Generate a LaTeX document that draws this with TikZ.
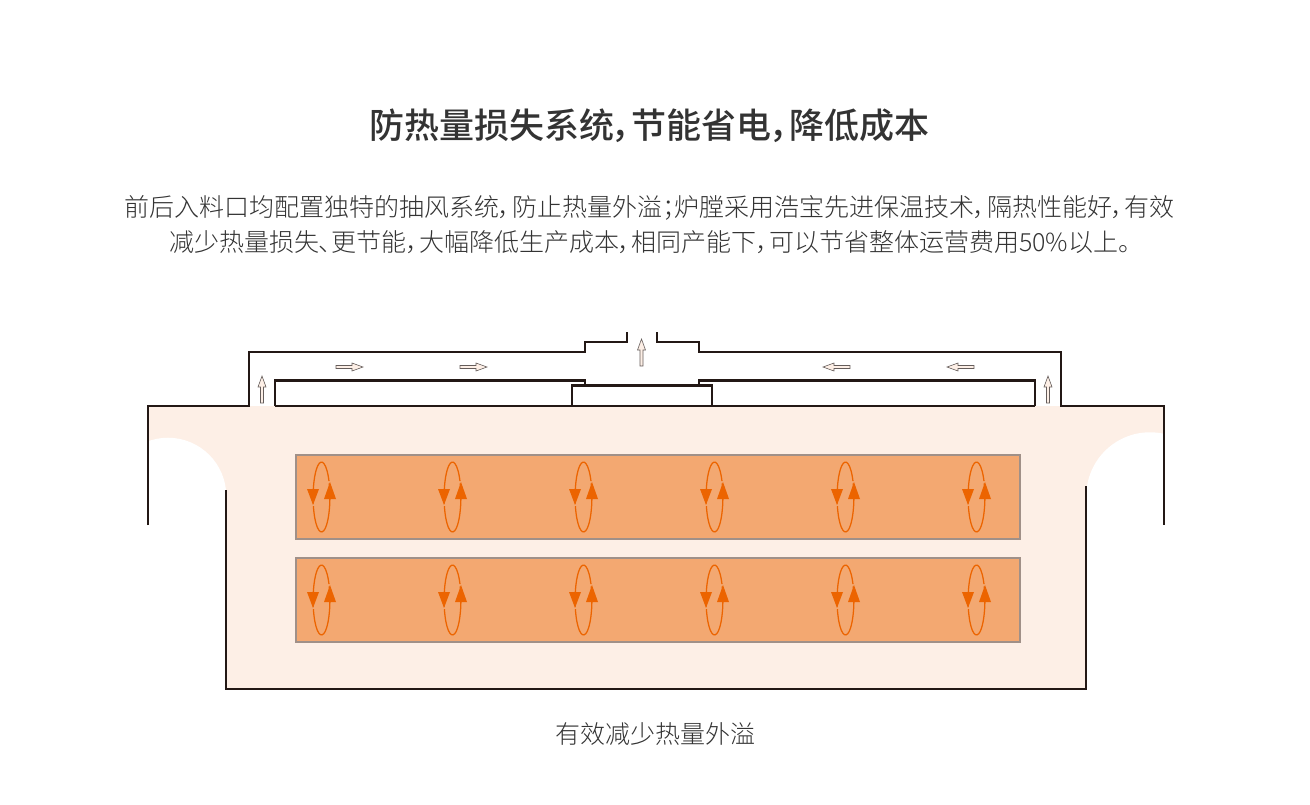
\documentclass[tikz,border=0pt]{standalone}
\usepackage{fontspec}
\setmainfont[RawFeature=+palt]{Noto Sans CJK SC Light}
\newfontfamily\titlefont[RawFeature=+palt]{Noto Sans CJK SC Medium}
\definecolor{wallcolor}{HTML}{231815}
\definecolor{furnacecolor}{HTML}{FDEFE6}
\definecolor{chambercolor}{HTML}{F3A871}
\definecolor{chamberedge}{HTML}{A09088}
\definecolor{swirlcolor}{HTML}{EC6400}
\definecolor{textcolor}{HTML}{333333}
\tikzset{
    wall/.style={draw=wallcolor, line width=2pt, line join=miter},
    chamber/.style={fill=chambercolor, draw=chamberedge, line width=0.9pt},
    flowarrow/.style={fill=furnacecolor, draw=wallcolor!70, line width=0.45pt},
    label/.style={text=textcolor, inner sep=0pt}
}
\newcommand{\flow}[3]{%
    \draw[flowarrow, shift={(#1, #2)}, rotate=#3] (0, -1.5) -- (16, -1.5) -- (16, -4) -- (27, 0) -- (16, 4) -- (16, 1.5) -- (0, 1.5) -- cycle;
}
\begin{document}
\begin{tikzpicture}[x=0.75pt, y=-0.75pt]
    \useasboundingbox (0, 0) rectangle (1310, 804);

    \node[label, font=\titlefont\fontsize{26.25}{30}\selectfont] (title) at (649, 126) {防热量损失系统，节能省电，降低成本};
    \node[label, font=\fontsize{18.75}{24}\selectfont] (intro1) at (649.5, 208) {前后入料口均配置独特的抽风系统，防止热量外溢；炉膛采用浩宝先进保温技术，隔热性能好，有效};
    \node[label, font=\fontsize{18.75}{24}\selectfont] (intro2) at (650, 242) {减少热量损失、更节能，大幅降低生产成本，相同产能下，可以节省整体运营费用50\%以上。};
    \node[label, font=\fontsize{18.75}{24}\selectfont] (caption) at (655, 734) {有效减少热量外溢};

    % furnace body
    \fill[furnacecolor] (148, 406) rectangle (1164, 490);
    \fill[furnacecolor] (226, 490) rectangle (1086, 689);
    \fill[white] (168, 496) circle (43.7pt);
    \fill[white] (1150, 496) circle (47.8pt);

    % outer wall
    \draw[wall] (148, 525) -- (148, 406) -- (249, 406) -- (249, 352) -- (585, 352) -- (585, 342) -- (627, 342) -- (627, 332);
    \draw[wall] (657, 332) -- (657, 342) -- (699, 342) -- (699, 352) -- (1061, 352) -- (1061, 406) -- (1164, 406) -- (1164, 525);
    \draw[wall] (226, 490) -- (226, 689) -- (1086, 689) -- (1086, 486);

    % inner duct
    \draw[wall] (275, 406) -- (275, 380.5) -- (585, 380.5) -- (585, 385.5);
    \draw[wall] (699, 385.5) -- (699, 380.5) -- (1035, 380.5) -- (1035, 406);
    \draw[wall] (275, 406) -- (572, 406);
    \draw[wall] (712, 406) -- (1035, 406);
    \draw[wall] (572, 385.5) rectangle (712, 406);

    % air flow
    \flow{262}{403}{90}
    \flow{1048}{403}{90}
    \flow{641.5}{366}{90}
    \foreach \x in {336, 460} {
        \flow{\x}{367}{0}
    }
    \foreach \x in {850, 974} {
        \flow{\x}{367}{180}
    }

    % heating chambers
    \foreach \y in {497, 600} {
        \draw[chamber] (296, \y - 42) rectangle (1020, \y + 42);
        \foreach \x in {321.5, 452.5, 583.5, 714.5, 845.5, 976.5} {
            \draw[swirlcolor, line width=0.95pt] (\x, \y) ++(27:6.3pt and 26.2pt) arc[start angle=27, end angle=191, x radius=6.3pt, y radius=26.2pt];
            \draw[swirlcolor, line width=0.95pt] (\x, \y) ++(195:6.3pt and 26.2pt) arc[start angle=195, end angle=383, x radius=6.3pt, y radius=26.2pt];
            \fill[swirlcolor] (\x - 14.5, \y - 8) -- (\x - 2.5, \y - 8) -- (\x - 8.5, \y + 8) -- cycle; % down
            \fill[swirlcolor] (\x + 2.5, \y + 2) -- (\x + 14.5, \y + 2) -- (\x + 8.5, \y - 15) -- cycle; % up
        }
    }
\end{tikzpicture}
\end{document}
